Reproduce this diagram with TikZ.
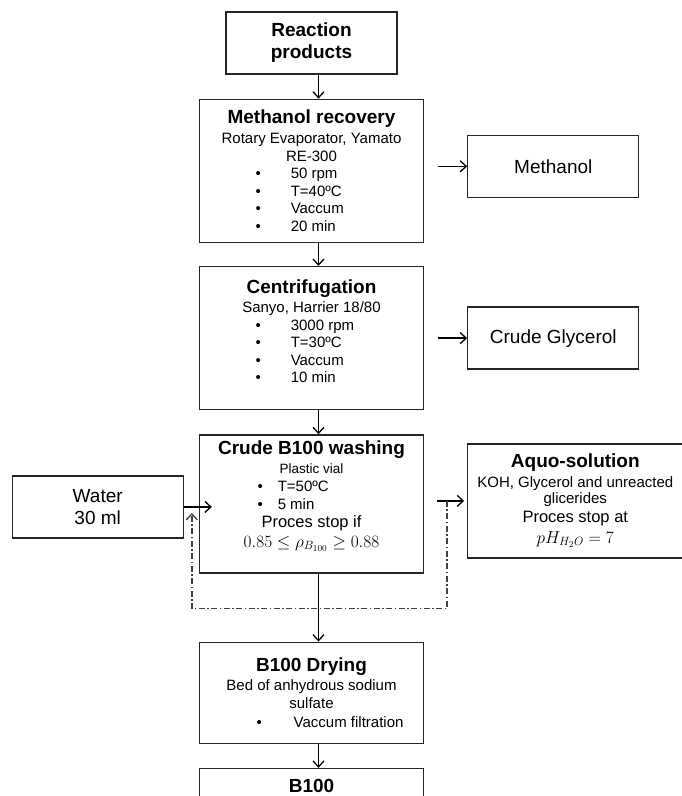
\documentclass[tikz,border=0pt]{standalone}
\usepackage{amsmath}
\usepackage{fontspec}
\setmainfont{Liberation Sans}
\usetikzlibrary{positioning,arrows.meta}

\newcommand{\stagetitle}{\fontsize{19}{22}\selectfont\bfseries}
\newcommand{\stepitem}[3]{\makebox[150pt][l]{\hspace*{#1}\textbullet\hspace*{#2}#3}}

\begin{document}
\begin{tikzpicture}[x=1pt,y=-1pt,
  stage/.style={draw=black!85,line width=1.3pt,minimum width=224pt,inner sep=0pt},
  sidebox/.style={draw=black!85,line width=1.3pt,minimum width=171pt,minimum height=62pt,
    align=center,font=\fontsize{19}{22}\selectfont},
  stagetext/.style={align=center,inner sep=0pt,font=\fontsize{15}{17.5}\selectfont},
  flow/.style={-{Straight Barb[length=6pt,width=11pt,line width=1.3pt]},line width=1.4pt},
  recycle/.style={flow,draw=black!75,line width=1.5pt,dash pattern=on 6pt off 2.5pt on 1.5pt off 2.5pt}]

  \clip (0,0) rectangle (682,796);

  % main line
  \node[sidebox,font=\stagetitle] (products) at (311.5,43) {Reaction\\products};
  \node[stage,minimum height=143pt,below=24pt of products] (recovery) {};
  \node[stage,minimum height=143pt,below=23pt of recovery] (centrif) {};
  \node[stage,minimum height=138pt,below=24pt of centrif] (washing) {};
  \node[stage,minimum height=101pt,below=68pt of washing] (drying) {};
  \node[stage,minimum height=100pt,below=24pt of drying] (b100) {};

  \node[stagetext] (recoverytxt) at (recovery.center) {{\stagetitle Methanol recovery}\\[2.5pt]
    Rotary Evaporator, Yamato\\ RE-300\\
    \stepitem{19pt}{30pt}{50 rpm}\\ \stepitem{19pt}{30pt}{T=40ºC}\\
    \stepitem{19pt}{30pt}{Vaccum}\\ \stepitem{19pt}{30pt}{20 min}};
  \node[stagetext] (centriftxt) at ([yshift=6.5pt]centrif.center) {{\stagetitle Centrifugation}\\[1.5pt]
    Sanyo, Harrier 18/80\\
    \stepitem{19pt}{30pt}{3000 rpm}\\ \stepitem{19pt}{30pt}{T=30ºC}\\
    \stepitem{19pt}{30pt}{Vaccum}\\ \stepitem{19pt}{30pt}{10 min}};
  \node[stagetext] (washingtxt) at ([yshift=8pt]washing.center) {{\stagetitle Crude B100 washing}\\[2pt]
    {\fontsize{13.5}{15}\selectfont Plastic vial}\\[0.5pt]
    \stepitem{21pt}{15pt}{T=50ºC}\\ \stepitem{21pt}{15pt}{5 min}\\[1pt]
    {\fontsize{16.5}{19}\selectfont Proces stop if}\\[2pt]
    {\fontsize{18}{20}\selectfont $0.85\le\rho_{B_{100}}\ge0.88$}};
  \node[stagetext] (dryingtxt) at (drying.center) {{\stagetitle B100 Drying}\\[1.5pt]
    Bed of anhydrous sodium\\ sulfate\\[1.5pt]
    \stepitem{20pt}{32pt}{Vaccum filtration}};
  \node[stagetext,below=11pt of b100.north] (b100txt) {\stagetitle B100};

  % side streams
  \node[sidebox,right=43pt of recovery,yshift=4.5pt] (methanol) {Methanol};
  \node[sidebox,right=43pt of centrif] (glycerol) {Crude Glycerol};
  \node[sidebox,left=15pt of washing,yshift=-3pt] (water) {Water\\30 ml};
  \node[stage,stagetext,minimum width=215pt,minimum height=114pt,right=43pt of washing,yshift=3pt] (aquo)
    {{\stagetitle Aquo-solution}\\[2pt]
    KOH, Glycerol and unreacted\\[-1pt] glicerides\\[1.5pt]
    {\fontsize{16.5}{19}\selectfont Proces stop at}\\[3pt]
    {\fontsize{18}{20}\selectfont $pH_{H_2O}=7$}};

  % connectors
  \draw[flow] ([xshift=7pt]products.south) -- ([xshift=7pt]recovery.north);
  \draw[flow] ([xshift=7pt]recovery.south) -- ([xshift=7pt]centrif.north);
  \draw[flow] ([xshift=7pt]centrif.south) -- ([xshift=7pt]washing.north);
  \draw[flow] ([xshift=7pt]washing.south) -- ([xshift=7pt]drying.north);
  \draw[flow] ([xshift=7pt]drying.south) -- ([xshift=7pt]b100.north);

  \draw[flow] ([xshift=14pt]recovery.east |- methanol.west) -- (methanol.west);
  \draw[flow] ([xshift=14pt]centrif.east |- glycerol.west) -- (glycerol.west);
  \draw[flow] (water.east) -- ([xshift=13pt]water.east -| washing.west);
  \draw[flow] ([xshift=13pt]washing.east |- aquo.west) -- ([xshift=-3pt]aquo.west);

  % recycle loop
  \coordinate (tap) at ([xshift=23pt]washing.east |- aquo.west);
  \coordinate (loop) at ([xshift=7pt,yshift=-35pt]washing.south);
  \coordinate (inlet) at ([xshift=8pt,yshift=-6pt]water.east);
  \draw[recycle] (tap) |- (loop) -| (inlet);
\end{tikzpicture}
\end{document}
